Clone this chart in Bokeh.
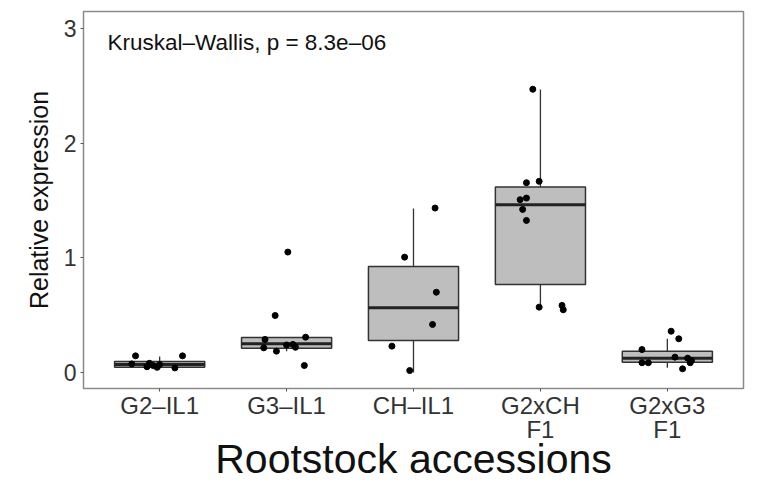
from bokeh.plotting import figure
from bokeh.models import Range1d, FixedTicker, Label
from bokeh.embed import file_html
from bokeh.resources import INLINE

# ---- data ----
categories = ["G2–IL1", "G3–IL1", "CH–IL1", "G2xCH\nF1", "G2xG3\nF1"]
positions = [1, 2, 3, 4, 5]
q1 = [0.046, 0.212, 0.279, 0.768, 0.090]
median = [0.070, 0.250, 0.565, 1.463, 0.125]
q3 = [0.096, 0.305, 0.925, 1.617, 0.186]
whisker_lo = [0.030, 0.186, 0.000, 0.570, 0.041]
whisker_hi = [0.140, 0.308, 1.430, 2.467, 0.294]

pts_g2il1 = [0.145, 0.145, 0.075, 0.080, 0.060, 0.045, 0.040, 0.070, 0.050]
jit_g2il1 = [-0.19, 0.18, -0.22, -0.08, -0.05, -0.02, 0.12, 0.00, -0.10]
pts_g3il1 = [1.050, 0.497, 0.308, 0.288, 0.215, 0.186, 0.240, 0.245, 0.220, 0.061]
jit_g3il1 = [0.01, -0.09, 0.15, -0.17, -0.18, -0.08, 0.00, 0.05, 0.07, 0.14]
pts_chil1 = [1.434, 1.006, 0.700, 0.419, 0.230, 0.017]
jit_chil1 = [0.17, -0.07, 0.18, 0.15, -0.17, -0.03]
pts_g2xch = [2.470, 1.655, 1.667, 1.507, 1.521, 1.422, 1.326, 0.570, 0.585, 0.547]
jit_g2xch = [-0.06, -0.11, -0.01, -0.16, -0.11, -0.14, -0.11, -0.01, 0.17, 0.18]
pts_g2xg3 = [0.360, 0.294, 0.200, 0.085, 0.085, 0.134, 0.125, 0.085, 0.032, 0.105]
jit_g2xg3 = [0.03, 0.09, -0.20, -0.20, -0.15, 0.06, 0.16, 0.18, 0.12, 0.19]

y_ticks = [0, 1, 2, 3]
annotation = "Kruskal–Wallis, p = 8.3e–06"
x_title = "Rootstock accessions"
y_title = "Relative expression"

FONT = "Liberation Sans"
BOX_W = 0.71

p = figure(width=757, height=486, output_backend="svg", toolbar_location=None,
           x_range=Range1d(0.4, 5.6), y_range=Range1d(-0.1395, 3.148),
           min_border_left=83, min_border_right=14, min_border_top=11, min_border_bottom=98)

p.background_fill_color = "white"
p.border_fill_color = "white"
p.outline_line_color = "#8a8a8a"
p.outline_line_width = 1.5
p.xgrid.visible = False
p.ygrid.visible = False

# boxes
p.vbar(x=positions, width=BOX_W, bottom=q1, top=q3, fill_color="#bebebe",
       line_color="#333333", line_width=1.5)
p.segment(x0=positions, x1=positions, y0=q3, y1=whisker_hi, line_color="#333333", line_width=1.3)
p.segment(x0=positions, x1=positions, y0=q1, y1=whisker_lo, line_color="#333333", line_width=1.3)
p.segment(x0=[x - BOX_W / 2 for x in positions], x1=[x + BOX_W / 2 for x in positions],
          y0=median, y1=median, line_color="#222222", line_width=3)

# points
groups = [(pts_g2il1, jit_g2il1), (pts_g3il1, jit_g3il1), (pts_chil1, jit_chil1),
          (pts_g2xch, jit_g2xch), (pts_g2xg3, jit_g2xg3)]
for pos, (vals, jit) in zip(positions, groups):
    p.scatter(x=[pos + j for j in jit], y=vals, size=6, color="black")

# axes
for ax in (p.xaxis[0], p.yaxis[0]):
    ax.axis_line_color = None
    ax.major_tick_line_color = "#555555"
    ax.major_tick_in = 0
    ax.major_tick_out = 3
    ax.minor_tick_line_color = None
    ax.major_label_text_font = FONT
    ax.major_label_text_color = "#333333"
    ax.axis_label_text_font = FONT
    ax.axis_label_text_font_style = "normal"
    ax.axis_label_text_color = "#111111"

p.xaxis.ticker = FixedTicker(ticks=positions)
p.xaxis.major_label_overrides = {pos: lab for pos, lab in zip(positions, categories)}
p.xaxis.major_label_text_font_size = "24px"
p.xaxis.major_label_text_line_height = 0.92
p.xaxis.major_label_standoff = 0
p.xaxis.axis_label = x_title
p.xaxis.axis_label_text_font_size = "41px"
p.xaxis.axis_label_standoff = -10

p.yaxis.ticker = FixedTicker(ticks=y_ticks)
p.yaxis.major_label_text_font_size = "23px"
p.yaxis.major_label_standoff = 4
p.yaxis.axis_label = y_title
p.yaxis.axis_label_text_font_size = "25px"
p.yaxis.axis_label_standoff = 8

p.add_layout(Label(x=0.589, y=2.878, text=annotation, text_font=FONT,
                   text_font_size="22.5px", text_baseline="middle", text_color="#111111"))

open("out.html", "w").write(file_html(p, INLINE))
